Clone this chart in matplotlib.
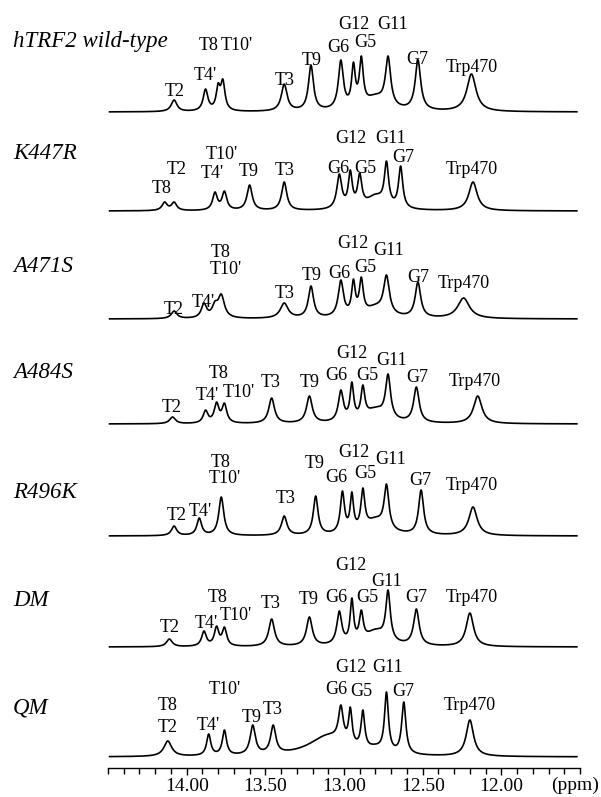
import numpy as np
import matplotlib
matplotlib.use("Agg")
import matplotlib.pyplot as plt
from matplotlib import transforms
from matplotlib.ticker import FixedLocator

plt.rcParams['font.family'] = ['Liberation Serif', 'DejaVu Serif']

# ---------------- data (peak positions in ppm, peak heights, half-widths) ----------------
spectrum_names = ["hTRF2 wild-type", "K447R", "A471S", "A484S", "R496K", "DM", "QM"]

wt_ppm = [14.08, 13.88, 13.80, 13.77, 13.38, 13.21, 13.02, 12.94, 12.89, 12.80, 12.72, 12.53, 12.19]
wt_height = [12, 23, 29, 33, 28, 47, 52, 50, 56, 18, 56, 52, 38]
wt_hw = [0.022, 0.018, 0.015, 0.016, 0.022, 0.019, 0.019, 0.014, 0.015, 0.08, 0.02, 0.021, 0.035]

k447r_ppm = [14.14, 14.08, 13.82, 13.76, 13.60, 13.38, 13.03, 12.96, 12.90, 12.80, 12.73, 12.64, 12.18]
k447r_height = [9, 9, 19, 20, 26, 29, 37, 41, 38, 17, 50, 45, 29]
k447r_hw = [0.02, 0.02, 0.018, 0.018, 0.02, 0.02, 0.019, 0.015, 0.016, 0.07, 0.016, 0.016, 0.032]

a471s_ppm = [14.08, 13.89, 13.82, 13.78, 13.38, 13.21, 13.02, 12.94, 12.89, 12.80, 12.73, 12.53, 12.24]
a471s_height = [8, 16, 18, 25, 16, 33, 39, 40, 42, 15, 44, 37, 21]
a471s_hw = [0.022, 0.02, 0.022, 0.024, 0.03, 0.02, 0.02, 0.014, 0.015, 0.08, 0.022, 0.021, 0.045]

a484s_ppm = [14.09, 13.88, 13.81, 13.76, 13.46, 13.22, 13.02, 12.95, 12.88, 12.80, 12.72, 12.54, 12.15]
a484s_height = [7, 14, 22, 21, 26, 28, 34, 42, 39, 17, 50, 37, 28]
a484s_hw = [0.022, 0.018, 0.018, 0.018, 0.022, 0.022, 0.019, 0.014, 0.015, 0.08, 0.019, 0.021, 0.032]

r496k_ppm = [14.08, 13.92, 13.78, 13.38, 13.18, 13.01, 12.95, 12.88, 12.80, 12.73, 12.51, 12.18]
r496k_height = [10, 18, 39, 20, 40, 45, 44, 48, 19, 52, 46, 29]
r496k_hw = [0.02, 0.018, 0.019, 0.021, 0.018, 0.016, 0.013, 0.015, 0.08, 0.018, 0.019, 0.032]

dm_ppm = [14.11, 13.89, 13.81, 13.76, 13.46, 13.22, 13.03, 12.95, 12.89, 12.80, 12.72, 12.54, 12.20]
dm_height = [8, 16, 21, 20, 28, 30, 36, 49, 37, 18, 57, 38, 34]
dm_hw = [0.022, 0.018, 0.017, 0.017, 0.022, 0.022, 0.019, 0.013, 0.015, 0.08, 0.017, 0.021, 0.028]

qm_ppm = [14.12, 13.86, 13.76, 13.58, 13.45, 13.10, 13.02, 12.96, 12.88, 12.80, 12.73, 12.62, 12.20]
qm_height = [16, 23, 27, 32, 32, 23, 52, 50, 47, 13, 65, 55, 37]
qm_hw = [0.03, 0.016, 0.016, 0.02, 0.02, 0.15, 0.018, 0.013, 0.014, 0.06, 0.015, 0.016, 0.028]

# peak label texts per spectrum
wt_labels = ["T2", "T4'", "T8", "T10'", "T3", "T9", "G6", "G12", "G5", "G11", "G7", "Trp470"]
k447r_labels = ["T8", "T2", "T10'", "T4'", "T9", "T3", "G6", "G12", "G5", "G11", "G7", "Trp470"]
a471s_labels = ["T2", "T4'", "T8", "T10'", "T3", "T9", "G6", "G12", "G5", "G11", "G7", "Trp470"]
a484s_labels = ["T2", "T4'", "T8", "T10'", "T3", "T9", "G6", "G12", "G5", "G11", "G7", "Trp470"]
r496k_labels = ["T2", "T4'", "T8", "T10'", "T3", "T9", "G6", "G12", "G5", "G11", "G7", "Trp470"]
dm_labels = ["T2", "T4'", "T8", "T10'", "T3", "T9", "G6", "G12", "G5", "G11", "G7", "Trp470"]
qm_labels = ["T8", "T2", "T10'", "T4'", "T9", "T3", "G6", "G12", "G5", "G11", "G7", "Trp470"]

tick_values = [14.00, 13.50, 13.00, 12.50, 12.00]
tick_labels = ["14.00", "13.50", "13.00", "12.50", "12.00"]

# ---------------- layout (pixels from top; label x in ppm) ----------------
BASELINES = [112, 211, 319, 424, 536, 647, 757]
NAME_Y = [41, 153, 266, 372, 492, 601, 708]
LABEL_POS = [
    [(14.076, 91), (13.882, 75), (13.863, 45), (13.680, 45), (13.380, 80), (13.207, 60),
     (13.037, 47), (12.935, 24), (12.864, 42), (12.693, 24), (12.537, 59), (12.185, 67)],
    [(14.161, 188), (14.066, 169), (13.778, 154), (13.834, 173), (13.605, 171), (13.378, 170),
     (13.039, 168), (12.959, 138), (12.864, 168), (12.705, 138), (12.622, 157), (12.189, 169)],
    [(14.083, 309), (13.894, 302), (13.782, 252), (13.751, 270), (13.378, 293), (13.207, 275),
     (13.030, 273), (12.942, 243), (12.866, 267), (12.717, 250), (12.528, 277), (12.237, 283)],
    [(14.095, 407), (13.870, 395), (13.796, 373), (13.669, 392), (13.463, 382), (13.219, 382),
     (13.049, 375), (12.947, 353), (12.852, 375), (12.698, 360), (12.533, 377), (12.166, 381)],
    [(14.066, 515), (13.912, 512), (13.787, 462), (13.759, 478), (13.373, 498), (13.188, 463),
     (13.049, 477), (12.935, 452), (12.864, 473), (12.705, 459), (12.516, 480), (12.189, 485)],
    [(14.111, 627), (13.877, 623), (13.806, 597), (13.688, 615), (13.463, 603), (13.226, 600),
     (13.046, 597), (12.954, 566), (12.852, 597), (12.727, 582), (12.540, 597), (12.189, 597)],
    [(14.123, 705), (14.118, 727), (13.759, 690), (13.863, 726), (13.586, 717), (13.451, 710),
     (13.049, 689), (12.959, 668), (12.888, 692), (12.722, 668), (12.622, 692), (12.201, 705)],
]

W, H = 601, 797
AX_L_PX, AX_R_PX = 108, 580
PPM_L, PPM_R = 14.5, 11.5
PX_PER_PPM = (AX_R_PX - AX_L_PX) / (PPM_L - PPM_R)


def px_to_ppm(px):
    return PPM_L - (px - AX_L_PX) / PX_PER_PPM


def spectrum(x, pos, hgt, hw):
    pos = np.asarray(pos, float)
    hgt = np.asarray(hgt, float)
    hw = np.asarray(hw, float)
    M = 1.0 / (1.0 + ((pos[:, None] - pos[None, :]) / hw[None, :]) ** 2)
    amp = np.linalg.solve(M, hgt)
    return (amp[None, :] / (1.0 + ((x[:, None] - pos[None, :]) / hw[None, :]) ** 2)).sum(axis=1)


fig = plt.figure(figsize=(W / 100, H / 100), dpi=100)
ax = fig.add_axes([0, 0, 1, 1])
ax.set_xlim(px_to_ppm(0), px_to_ppm(W))
ax.set_ylim(H, 0)

x = np.linspace(14.49, 11.52, 4000)
all_ppm = [wt_ppm, k447r_ppm, a471s_ppm, a484s_ppm, r496k_ppm, dm_ppm, qm_ppm]
all_height = [wt_height, k447r_height, a471s_height, a484s_height, r496k_height, dm_height, qm_height]
all_hw = [wt_hw, k447r_hw, a471s_hw, a484s_hw, r496k_hw, dm_hw, qm_hw]
all_labels = [wt_labels, k447r_labels, a471s_labels, a484s_labels, r496k_labels, dm_labels, qm_labels]

name_tr = transforms.blended_transform_factory(ax.transAxes, ax.transData)

for i in range(7):
    y = spectrum(x, all_ppm[i], all_height[i], all_hw[i])
    ax.plot(x, BASELINES[i] - y, color='black', lw=1.2)
    ax.text(13 / W, NAME_Y[i], spectrum_names[i], transform=name_tr, ha='left', va='center',
            fontsize=16.5, style='italic')
    for lab, (lx, ly) in zip(all_labels[i], LABEL_POS[i]):
        ax.text(lx, ly, lab, ha='center', va='center', fontsize=13)

# ppm axis
for s in ['top', 'left', 'right']:
    ax.spines[s].set_visible(False)
ax.spines['bottom'].set_position(('data', 768))
ax.spines['bottom'].set_bounds(PPM_R, PPM_L)
ax.spines['bottom'].set_linewidth(1.0)
ax.yaxis.set_visible(False)
ax.xaxis.set_major_locator(FixedLocator(tick_values))
ax.set_xticklabels(tick_labels)
ax.xaxis.set_minor_locator(FixedLocator(np.round(np.arange(11.5, 14.51, 0.1), 2)))
ax.tick_params(axis='x', which='major', direction='out', length=5, width=1.0, labelsize=14, pad=2)
ax.tick_params(axis='x', which='minor', direction='out', length=4, width=1.0)
ax.text(575 / W, 785, "(ppm)", transform=name_tr, ha='center', va='center', fontsize=14)

fig.savefig("out.png", dpi=100, facecolor='white')
